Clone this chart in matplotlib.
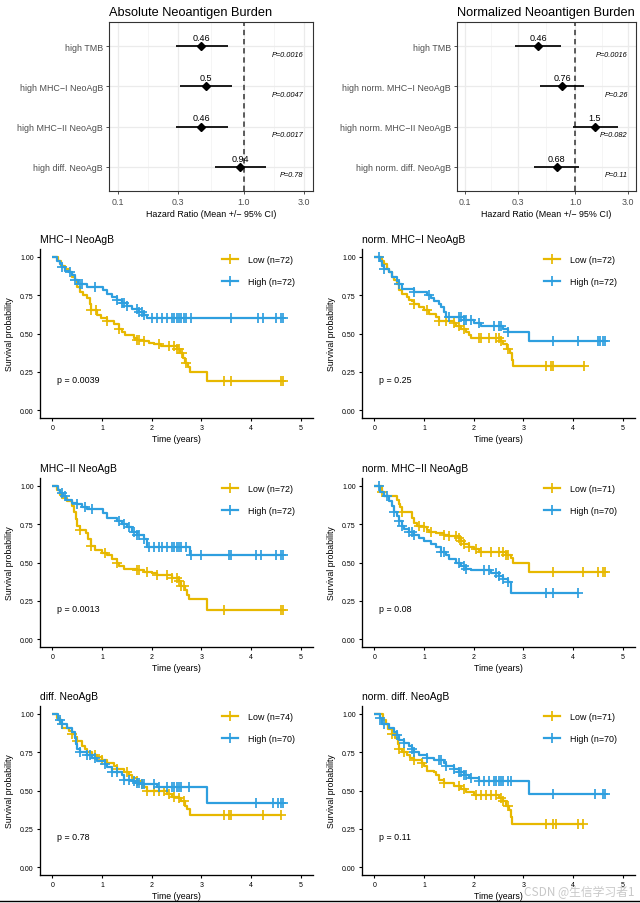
import matplotlib

matplotlib.use("Agg")
import matplotlib.pyplot as plt
import numpy as np
from matplotlib.lines import Line2D

plt.rcParams["font.family"] = ["Liberation Sans", "DejaVu Sans"]

# ---- forest plot data ----
abs_labels = ["high TMB", "high MHC\u2212I NeoAgB", "high MHC\u2212II NeoAgB", "high diff. NeoAgB"]
abs_hr = [0.46, 0.50, 0.46, 0.94]
abs_lo = [0.286, 0.308, 0.286, 0.586]
abs_hi = [0.745, 0.80, 0.745, 1.50]
abs_hr_txt = ["0.46", "0.5", "0.46", "0.94"]
abs_p = ["P=0.0016", "P=0.0047", "P=0.0017", "P=0.78"]

norm_labels = ["high TMB", "high norm. MHC\u2212I NeoAgB", "high norm. MHC\u2212II NeoAgB",
               "high norm. diff. NeoAgB"]
norm_hr = [0.46, 0.76, 1.51, 0.68]
norm_lo = [0.286, 0.48, 0.96, 0.42]
norm_hi = [0.745, 1.21, 2.46, 1.09]
norm_hr_txt = ["0.46", "0.76", "1.5", "0.68"]
norm_p = ["P=0.0016", "P=0.26", "P=0.082", "P=0.11"]

# ---- Kaplan-Meier data: step times, survival after step, censor times ----
mhc1_low_t = [0, .12, .18, .25, .33, .4, .45, .5, .55, .62, .7, .75, .78, .9, .97, 1.1, 1.24, 1.34,
              1.4, 1.47, 1.64, 1.7, 1.84, 1.94, 2.04, 2.18, 2.5, 2.58, 2.64, 2.68, 2.74, 2.78, 3.12]
mhc1_low_s = [1, .97, .94, .92, .9, .87, .85, .8, .77, .75, .73, .69, .65, .62, .6, .58, .56, .53,
              .51, .49, .47, .46, .45, .44, .43, .42, .4, .37, .34, .31, .28, .25, .19]
mhc1_low_c = [0.78, 0.88, 1.1, 1.35, 1.7, 1.75, 1.85, 2.15, 2.35, 2.45, 2.5, 2.55, 2.62, 2.7,
              3.45, 3.6, 4.6, 4.65]
mhc1_high_t = [0, .1, .15, .2, .25, .33, .4, .45, .52, .7, 1.02, 1.1, 1.2, 1.3, 1.4, 1.5, 1.6,
               1.75, 1.85, 1.9]
mhc1_high_s = [1, .97, .95, .93, .91, .9, .88, .85, .82, .8, .78, .76, .74, .72, .7, .68, .66,
               .64, .62, .6]
mhc1_high_c = [0.2, 0.35, 0.45, 0.55, 0.6, 0.85, 1.3, 1.4, 1.45, 1.5, 1.7, 1.75, 1.8, 1.85, 2.0,
               2.1, 2.2, 2.3, 2.4, 2.45, 2.5, 2.55, 2.6, 2.65, 2.7, 2.8, 3.6, 4.15, 4.25, 4.5,
               4.6, 4.65]

nmhc1_low_t = [0, .15, .2, .25, .3, .35, .4, .45, .5, .55, .65, .7, .75, .8, .9, 1.0, 1.1, 1.25,
               1.3, 1.6, 1.65, 1.75, 1.85, 1.9, 1.95, 2.55, 2.6, 2.68, 2.73, 2.77, 2.8]
nmhc1_low_s = [1, .97, .95, .92, .9, .87, .85, .82, .78, .76, .74, .72, .71, .69, .67, .65, .63,
               .61, .58, .57, .55, .53, .51, .49, .47, .45, .43, .40, .37, .33, .29]
nmhc1_low_c = [0.8, 1.05, 1.3, 1.45, 1.6, 1.7, 1.8, 2.1, 2.15, 2.3, 2.45, 2.5, 2.55, 2.7, 3.45,
               3.55, 3.6, 4.22]
nmhc1_high_t = [0, .12, .15, .2, .3, .35, .45, .5, .55, .8, 1.05, 1.15, 1.2, 1.3, 1.35, 1.4,
                1.45, 1.8, 2.0, 2.15, 2.6, 2.7, 3.12]
nmhc1_high_s = [1, .97, .94, .92, .9, .87, .84, .82, .79, .77, .75, .73, .71, .69, .67, .64,
                .61, .59, .57, .55, .53, .51, .45]
nmhc1_high_c = [0.1, 0.2, 0.5, 0.8, 1.1, 1.5, 1.7, 1.75, 1.8, 1.85, 1.95, 2.1, 2.4, 2.5, 2.55,
                2.7, 3.6, 4.1, 4.5, 4.55, 4.6, 4.65]

mhc2_low_t = [0, .1, .15, .2, .3, .4, .43, .47, .5, .55, .68, .72, .77, .85, 1.0, 1.1, 1.2, 1.3,
              1.35, 1.45, 1.7, 1.85, 2.0, 2.1, 2.4, 2.55, 2.6, 2.68, 2.72, 2.75, 3.12]
mhc2_low_s = [1, .97, .94, .92, .9, .87, .83, .78, .74, .71, .69, .65, .61, .58, .56, .55, .52,
              .5, .48, .46, .45, .44, .43, .42, .4, .38, .35, .32, .29, .26, .19]
mhc2_low_c = [0.55, 0.78, 1.05, 1.3, 1.7, 1.75, 1.9, 2.1, 2.3, 2.4, 2.5, 2.55, 2.6, 2.65, 3.45,
              4.6, 4.65]
mhc2_high_t = [0, .12, .15, .22, .28, .4, .5, .6, .7, 1.02, 1.1, 1.3, 1.4, 1.5, 1.6, 1.7, 1.85,
               1.9, 2.77]
mhc2_high_s = [1, .97, .95, .93, .91, .89, .88, .86, .85, .82, .79, .77, .75, .73, .7, .68, .65,
               .6, .55]
mhc2_high_c = [0.2, 0.25, 0.5, 0.65, 0.8, 1.35, 1.45, 1.55, 1.65, 1.7, 1.75, 1.85, 1.95, 2.05,
               2.15, 2.2, 2.3, 2.4, 2.45, 2.5, 2.55, 2.6, 2.7, 2.8, 3.0, 3.55, 3.6, 4.1, 4.2,
               4.5, 4.6, 4.65]

nmhc2_low_t = [0, .15, .2, .45, .5, .52, .55, .75, .8, .85, 1.0, 1.05, 1.1, 1.25, 1.4, 1.5, 1.7,
               1.75, 1.8, 1.9, 2.0, 2.1, 2.65, 2.75, 2.8, 3.12]
nmhc2_low_s = [1, .96, .93, .91, .88, .86, .83, .79, .76, .74, .73, .71, .7, .69, .68, .67, .66,
               .64, .62, .6, .59, .57, .55, .53, .5, .44]
nmhc2_low_c = [0.15, 0.55, 0.9, 1.0, 1.15, 1.4, 1.5, 1.65, 1.7, 1.75, 1.8, 1.9, 2.05, 2.15,
               2.35, 2.5, 2.6, 2.65, 2.7, 3.6, 4.2, 4.5, 4.6, 4.65]
nmhc2_high_t = [0, .12, .2, .3, .35, .4, .45, .5, .55, .6, .7, .8, .9, 1.0, 1.15, 1.25, 1.35,
                1.45, 1.5, 1.65, 1.75, 1.85, 1.95, 2.35, 2.5, 2.6, 2.7, 2.75]
nmhc2_high_s = [1, .96, .93, .9, .87, .83, .8, .77, .74, .72, .7, .68, .66, .64, .62, .6, .57,
                .55, .52, .5, .48, .46, .45, .43, .41, .39, .37, .3]
nmhc2_high_c = [0.1, 0.25, 0.4, 0.5, 0.55, 0.7, 0.75, 0.8, 1.35, 1.4, 1.7, 1.8, 1.85, 2.2, 2.3,
                2.45, 2.5, 2.6, 2.7, 3.45, 3.6, 4.1]

diff_low_t = [0, .1, .15, .2, .33, .4, .45, .5, .6, .65, .7, .8, .9, 1.0, 1.1, 1.25, 1.3, 1.45,
              1.55, 1.6, 1.7, 1.8, 1.85, 1.9, 2.3, 2.4, 2.55, 2.6, 2.67, 2.72, 2.78]
diff_low_s = [1, .97, .94, .91, .89, .87, .85, .82, .79, .77, .75, .73, .72, .7, .68, .66, .64,
              .62, .6, .58, .56, .54, .52, .5, .48, .46, .45, .43, .4, .38, .34]
diff_low_c = [0.4, 0.5, 0.85, 1.0, 1.3, 1.5, 1.7, 1.8, 1.9, 2.05, 2.15, 2.25, 2.35, 2.45, 2.55,
              2.65, 3.45, 3.55, 3.6, 4.25, 4.6]
diff_high_t = [0, .12, .2, .3, .4, .45, .47, .5, .55, .7, .8, .9, 1.05, 1.1, 1.2, 1.4, 1.45, 1.6,
               1.7, 1.8, 2.1, 3.12]
diff_high_s = [1, .96, .93, .91, .88, .84, .8, .77, .75, .73, .71, .69, .67, .65, .62, .6, .57,
               .56, .55, .54, .52, .42]
diff_high_c = [0.15, 0.2, 0.55, 0.7, 0.75, 0.85, 1.05, 1.2, 1.3, 1.45, 1.55, 1.65, 1.7, 1.75,
               1.8, 1.85, 2.05, 2.15, 2.3, 2.4, 2.45, 2.5, 2.55, 2.6, 2.75, 4.1, 4.45, 4.55,
               4.6, 4.65]

ndiff_low_t = [0, .17, .23, .28, .35, .42, .47, .5, .55, .65, .72, .8, .95, 1.0, 1.05, 1.2, 1.25,
               1.3, 1.4, 1.6, 1.75, 1.85, 2.0, 2.5, 2.6, 2.65, 2.72, 2.75, 2.78]
ndiff_low_s = [1, .96, .93, .9, .87, .84, .8, .77, .75, .73, .71, .7, .68, .66, .63, .62, .6,
               .57, .55, .53, .51, .49, .47, .45, .43, .4, .37, .33, .28]
ndiff_low_c = [0.35, 0.5, 0.6, 0.8, 0.95, 1.4, 1.7, 1.8, 2.05, 2.15, 2.25, 2.35, 2.45, 2.55,
               2.6, 2.7, 3.45, 3.6, 3.65, 4.1, 4.2]
ndiff_high_t = [0, .12, .15, .3, .4, .45, .5, .6, .7, .75, .8, .9, 1.05, 1.2, 1.4, 1.45, 1.6,
                1.7, 1.8, 1.9, 2.1, 3.12]
ndiff_high_s = [1, .97, .93, .91, .88, .86, .83, .81, .79, .77, .75, .73, .71, .7, .68, .66,
                .64, .62, .6, .58, .56, .48]
ndiff_high_c = [0.12, 0.2, 0.45, 0.6, 0.75, 0.8, 1.05, 1.3, 1.35, 1.45, 1.6, 1.7, 1.75, 1.8,
                1.85, 1.95, 2.1, 2.2, 2.3, 2.4, 2.45, 2.5, 2.55, 2.6, 2.7, 2.75, 3.6, 4.45,
                4.6, 4.65]

km_titles = ["MHC\u2212I NeoAgB", "norm. MHC\u2212I NeoAgB", "MHC\u2212II NeoAgB",
             "norm. MHC\u2212II NeoAgB", "diff. NeoAgB", "norm. diff. NeoAgB"]
km_n_low = [72, 72, 72, 71, 74, 71]
km_n_high = [72, 72, 72, 70, 70, 70]
km_pvals = ["p = 0.0039", "p = 0.25", "p = 0.0013", "p = 0.08", "p = 0.78", "p = 0.11"]

LOW_COLOR = "#E7B800"
HIGH_COLOR = "#2E9FDF"

W, H = 640, 904
fig = plt.figure(figsize=(W / 100, H / 100), dpi=100)


def px_axes(left, top, right, bottom):
    return fig.add_axes([left / W, 1 - bottom / H, (right - left) / W, (bottom - top) / H])


def forest(ax, labels, hr, lo, hi, hr_txt, ptxt, title):
    ypos = np.arange(len(labels), 0, -1)
    ax.set_xscale("log")
    ax.set_xlim(10 ** -1.0739, 10 ** 0.5510)
    ax.set_ylim(0.4, 4.6)
    ax.set_xticks([0.1, 0.3, 1.0, 3.0])
    ax.set_xticklabels(["0.1", "0.3", "1.0", "3.0"])
    ax.xaxis.set_minor_locator(matplotlib.ticker.NullLocator())
    for m in [0.1732, 0.5477, 1.7321]:
        ax.axvline(m, color="#F2F2F2", lw=0.5, zorder=0)
    for m in [0.1, 0.3, 1.0, 3.0]:
        ax.axvline(m, color="#EBEBEB", lw=0.9, zorder=0)
    for y in ypos:
        ax.axhline(y, color="#EBEBEB", lw=0.9, zorder=0)
    ax.set_yticks(ypos)
    ax.set_yticklabels(labels)
    ax.axvline(1.0, color="#333333", lw=1.1, ls=(0, (3.5, 2.5)), zorder=2)
    ax.hlines(ypos, lo, hi, color="black", lw=1.25, zorder=3)
    ax.plot(hr, ypos, "D", color="black", ms=4.4, zorder=4)
    for x, y, t, p in zip(hr, ypos, hr_txt, ptxt):
        ax.annotate(t, (x, y), xytext=(0, 6.3), textcoords="offset points",
                    ha="center", va="center", fontsize=6.5)
        ax.text(3.0, y - 0.2, p, ha="right", va="center", fontsize=5.3, style="italic")
    for s in ax.spines.values():
        s.set_color("#333333")
        s.set_linewidth(0.8)
    ax.tick_params(axis="both", colors="#333333", length=2.5, width=0.6, labelsize=6.4,
                   labelcolor="#4D4D4D", pad=2)
    ax.set_xlabel("Hazard Ratio (Mean +/\u2212 95% CI)", fontsize=6.4, labelpad=2)
    ax.set_title(title, loc="left", fontsize=9.2, pad=5)


def step_value(t, s, x):
    idx = np.searchsorted(t, x, side="right") - 1
    return np.asarray(s)[idx]


def km(ax, curves, title, n_low, n_high, ptxt):
    handles = []
    for (t, s, c), color in zip(curves, [LOW_COLOR, HIGH_COLOR]):
        end = max(c)
        ax.step(list(t) + [end], list(s) + [s[-1]], where="post", color=color, lw=1.6,
                solid_capstyle="butt")
        ax.plot(c, step_value(t, s, c), "+", color=color, ms=7.2, mew=1.25)
        handles.append(Line2D([0], [0], color=color, lw=1.6, marker="+", ms=7.5, mew=1.25))
    ax.set_xlim(-0.25, 5.25)
    ax.set_ylim(-0.05, 1.05)
    ax.set_xticks([0, 1, 2, 3, 4, 5])
    ax.set_yticks([0, 0.25, 0.5, 0.75, 1.0])
    ax.set_yticklabels(["0.00", "0.25", "0.50", "0.75", "1.00"])
    for side in ["top", "right"]:
        ax.spines[side].set_visible(False)
    for side in ["left", "bottom"]:
        ax.spines[side].set_linewidth(0.95)
    ax.tick_params(axis="both", length=2.5, width=0.8, labelsize=5.0, pad=2)
    ax.set_xlabel("Time (years)", fontsize=6.3, labelpad=2)
    ax.set_ylabel("Survival probability", fontsize=6.3, labelpad=4)
    ax.set_title(title, loc="left", fontsize=7.5, pad=5)
    ax.text(0.1, 0.2, ptxt, ha="left", va="center", fontsize=6.4)
    ax.legend(handles, [f"Low (n={n_low})", f"High (n={n_high})"], loc="upper left",
              bbox_to_anchor=(0.665, 0.965), frameon=False, fontsize=6.4, borderpad=0,
              borderaxespad=0, handlelength=1.9, handletextpad=1.1, labelspacing=1.45,
              numpoints=1)


forest(px_axes(109, 23, 313, 192), abs_labels, abs_hr, abs_lo, abs_hi, abs_hr_txt, abs_p,
       "Absolute Neoantigen Burden")
forest(px_axes(457, 23, 636, 192), norm_labels, norm_hr, norm_lo, norm_hi, norm_hr_txt, norm_p,
       "Normalized Neoantigen Burden")

km_curves = [
    [(mhc1_low_t, mhc1_low_s, mhc1_low_c), (mhc1_high_t, mhc1_high_s, mhc1_high_c)],
    [(nmhc1_low_t, nmhc1_low_s, nmhc1_low_c), (nmhc1_high_t, nmhc1_high_s, nmhc1_high_c)],
    [(mhc2_low_t, mhc2_low_s, mhc2_low_c), (mhc2_high_t, mhc2_high_s, mhc2_high_c)],
    [(nmhc2_low_t, nmhc2_low_s, nmhc2_low_c), (nmhc2_high_t, nmhc2_high_s, nmhc2_high_c)],
    [(diff_low_t, diff_low_s, diff_low_c), (diff_high_t, diff_high_s, diff_high_c)],
    [(ndiff_low_t, ndiff_low_s, ndiff_low_c), (ndiff_high_t, ndiff_high_s, ndiff_high_c)],
]
row_bounds = [(250, 419), (479, 648), (707, 876)]
col_bounds = [(40, 313), (362, 635)]
for i in range(6):
    top, bottom = row_bounds[i // 2]
    left, right = col_bounds[i % 2]
    km(px_axes(left, top, right, bottom), km_curves[i], km_titles[i], km_n_low[i],
       km_n_high[i], km_pvals[i])

# screenshot border line and watermark
fig.add_artist(Line2D([0, 1], [1.8 / H, 1.8 / H], color="black", lw=1.0,
                      transform=fig.transFigure))
fig.text(635 / W, 1 - 893 / H, "CSDN @生信学习者1", ha="right", va="center", fontsize=8.5,
         color="#C8C8C8", family=["Noto Sans CJK SC", "DejaVu Sans"])

fig.savefig("out.png", dpi=100)
